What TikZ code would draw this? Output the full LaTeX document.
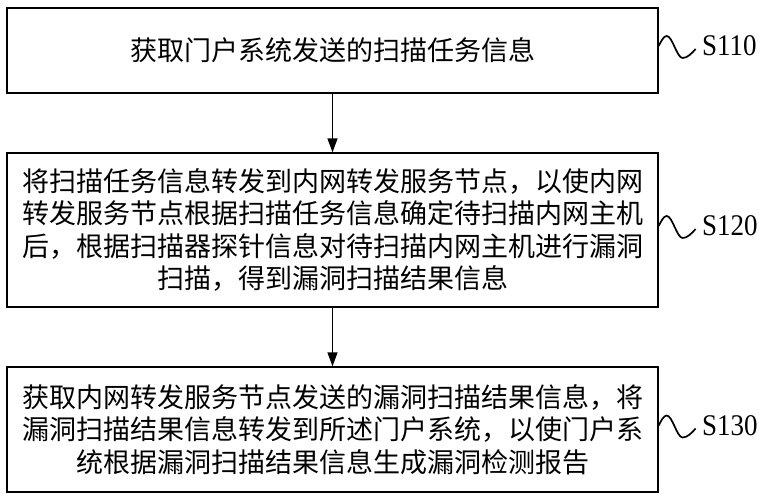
\documentclass[tikz,border=0pt]{standalone}
\usepackage{fontspec}
\setmainfont{Liberation Serif}
\newfontfamily\cjk{Noto Sans CJK SC}
\usetikzlibrary{arrows.meta}
\newlength{\du}
\setlength{\du}{1pt}
\definecolor{dialinecolor}{rgb}{0.000000, 0.000000, 0.000000}
\tikzset{
  stepbox/.style={draw=dialinecolor, line width=1.3\du, minimum width=651\du, inner sep=0pt, align=center, font=\cjk\fontsize{27}{32.5}\selectfont},
  steplabel/.style={anchor=west, inner sep=0pt, font=\fontsize{30}{32}\selectfont},
  flow/.style={-{Triangle[length=14pt,width=10pt]}, line width=1.3\du},
  wave/.style={line width=1.7\du},
}

\begin{document}
\begin{tikzpicture}
\pgftransformxscale{1.000000}
\pgftransformyscale{-1.000000}
\pgfsetstrokecolor{dialinecolor}
\fill[white] (0\du,0\du) rectangle (765\du,500\du);
\useasboundingbox (0\du,0\du) rectangle (765\du,500\du);
% steps
\node[stepbox, minimum height=85\du] (s110) at (332.5\du,50.5\du){获取门户系统发送的扫描任务信息};
\node[stepbox, minimum height=154\du] (s120) at (332.5\du,230\du){将扫描任务信息转发到内网转发服务节点，以使内网\\转发服务节点根据扫描任务信息确定待扫描内网主机\\后，根据扫描器探针信息对待扫描内网主机进行漏洞\\扫描，得到漏洞扫描结果信息};
\node[stepbox, minimum height=125\du] (s130) at (332.5\du,429.5\du){获取内网转发服务节点发送的漏洞扫描结果信息，将\\漏洞扫描结果信息转发到所述门户系统，以使门户系\\统根据漏洞扫描结果信息生成漏洞检测报告};
\draw[flow] (s110) -- (s120);
\draw[flow] (s120) -- (s130);
% step numbers
\node[steplabel] (l110) at (702\du,46\du){\scalebox{0.9}[1]{S110}};
\node[steplabel] (l120) at (702\du,226\du){\scalebox{0.9}[1]{S120}};
\node[steplabel] (l130) at (702\du,425.5\du){\scalebox{0.9}[1]{S130}};
\foreach \n in {110,120,130}{
  \draw[wave] (s\n.east |- l\n.west) sin +(8\du,-10\du) cos +(8\du,11\du) sin +(8\du,11\du) cos +(13\du,-9\du);
}
\end{tikzpicture}
\end{document}
